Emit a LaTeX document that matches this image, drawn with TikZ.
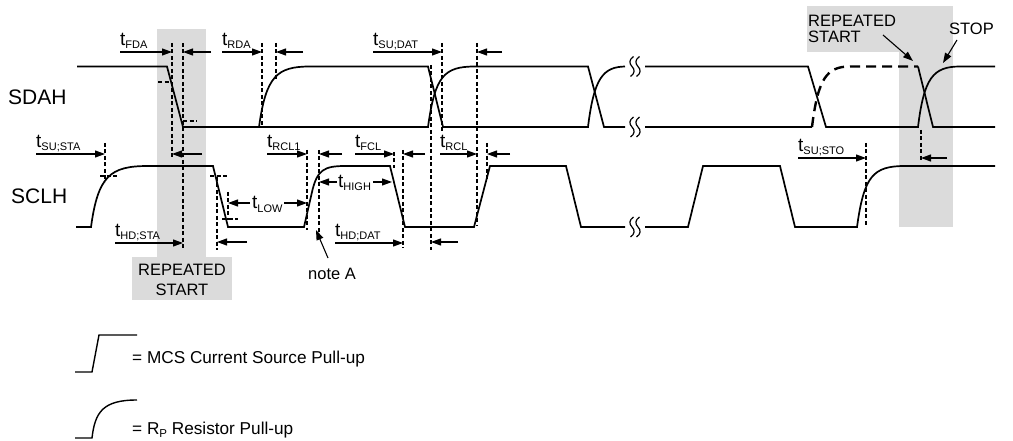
\documentclass[tikz,border=0pt]{standalone}
\usepackage{fontspec}
\setmainfont{Liberation Sans}
\usetikzlibrary{arrows.meta}
\newcommand\tsym[1]{{\fontsize{19}{20}\selectfont t}\raisebox{-3pt}{\fontsize{11}{12}\selectfont #1}}
\tikzset{
  sig/.style={line width=1.7pt, line join=miter},
  dsh/.style={line width=1.2pt, dash pattern=on 4pt off 2.5pt},
  arr/.style={line width=1.1pt, -{Triangle[length=10pt,width=7pt]}},
  lbl/.style={inner sep=0pt, font=\fontsize{16.5}{17}\selectfont},
  leglbl/.style={inner sep=0pt, font=\fontsize{17.2}{18}\selectfont, anchor=base west},
  tl/.style={inner sep=0pt, anchor=base west},
  bandfill/.style={fill=black!14, draw=none},
  brk/.pic={
    \draw[line width=1.2pt] (-1.5,-10) .. controls (-6,-7) and (-6,-3) .. (-3,0) .. controls (0,3) and (0,7) .. (-4.5,10);
    \draw[line width=1.2pt] (4.5,-10) .. controls (0,-7) and (0,-3) .. (3,0) .. controls (6,3) and (6,7) .. (1.5,10);
  }
}
\begin{document}
\begin{tikzpicture}[x=1pt,y=-1pt]
\useasboundingbox (0,0) rectangle (1013,441);
\def\SH{66.5}\def\SL{127}\def\CH{166}\def\CL{227}
% gray bands
\path[bandfill] (157,29) rectangle (206,257);
\path[bandfill] (132,257) rectangle (232,300);
\path[bandfill] (807,6) rectangle (948,52);
\path[bandfill] (899,6) rectangle (953,227);
% SDAH
\draw[sig] (77,\SH) -- (167,\SH) -- (183,\SL) -- (428,\SL) .. controls (435,76) and (444,\SH) .. (475,\SH) -- (588,\SH) -- (604,\SL) -- (625,\SL);
\draw[sig] (259,\SL) .. controls (266,76) and (277,\SH) .. (310,\SH) -- (428,\SH) -- (443,\SL) -- (588,\SL) .. controls (594,78) and (603,67) .. (625,\SH);
\draw[sig] (645,\SH) -- (808,\SH) -- (826,\SL) -- (918,\SL) .. controls (924,78) and (933,\SH) .. (960,\SH) -- (995,\SH);
\draw[sig] (645,\SL) -- (812,\SL);
\draw[line width=2.4pt, dash pattern=on 10pt off 6pt] (812,\SL) .. controls (818,78) and (827,\SH) .. (850,\SH) -- (918,\SH);
\draw[sig] (918,\SH) -- (933,\SL) -- (995,\SL);
% SCLH
\draw[sig] (76,\CL) -- (91,\CL) .. controls (98,176) and (110,\CH) .. (148,\CH) -- (213,\CH) -- (228,\CL) -- (304,\CL) -- (312,192) .. controls (317,170) and (324,\CH) .. (345,\CH) -- (390,\CH) -- (405,\CL) -- (474,\CL) -- (490,\CH) -- (566,\CH) -- (581,\CL) -- (625,\CL);
\draw[sig] (645,\CL) -- (688,\CL) -- (703,\CH) -- (780,\CH) -- (795,\CL) -- (857,\CL) .. controls (864,176) and (873,\CH) .. (905,\CH) -- (995,\CH);
% breaks
\pic at (635,\SH) {brk};
\pic at (635,\SL) {brk};
\pic at (635,\CL) {brk};
% dashed markers
\draw[dsh] (158,82) -- (172,82);
\draw[dsh] (183,121) -- (197,121);
\draw[dsh] (172,43) -- (172,157);
\draw[dsh] (183,43) -- (183,250);
\draw[dsh] (262,43) -- (262,127);
\draw[dsh] (276,43) -- (276,80);
\draw[dsh] (100,176) -- (117,176);
\draw[dsh] (105,143) -- (105,182);
\draw[dsh] (210,176) -- (227,176);
\draw[dsh] (217,177) -- (217,250);
\draw[dsh] (222,219) -- (238,219);
\draw[dsh] (228,192) -- (228,220);
\draw[dsh] (307,150) -- (307,230);
\draw[dsh] (319,150) -- (319,232);
\draw[dsh] (394,152) -- (394,168);
\draw[dsh] (403,150) -- (403,248);
\draw[dsh] (431,65) -- (431,250);
\draw[dsh] (442,43) -- (442,132);
\draw[dsh] (477,43) -- (477,226);
\draw[dsh] (487,143) -- (487,180);
\draw[dsh] (866,143) -- (866,227);
\draw[dsh] (921,130) -- (921,161);
% timing arrows
\draw[arr] (120,52) -- (172,52);
\draw[arr] (211,52) -- (183,52);
\draw[arr] (222,52) -- (262,52);
\draw[arr] (303,52) -- (276,52);
\draw[arr] (373,52) -- (442,52);
\draw[arr] (502,52) -- (477,52);
\draw[arr] (36,154) -- (105,154);
\draw[arr] (202,154) -- (172,154);
\draw[arr] (115,243) -- (183,243);
\draw[arr] (247,242) -- (217,242);
\draw[arr] (250,203) -- (228,203);
\draw[arr] (284,203) -- (307,203);
\draw[arr] (267,154) -- (307,154);
\draw[arr] (342,154) -- (319,154);
\draw[arr] (337,182) -- (319,182);
\draw[arr] (373,182) -- (392,182);
\draw[arr] (355,154) -- (394,154);
\draw[arr] (425,154) -- (403,154);
\draw[arr] (440,154) -- (477,154);
\draw[arr] (510,154) -- (487,154);
\draw[arr] (335,243) -- (403,243);
\draw[arr] (458,242) -- (431,242);
\draw[arr] (798,158) -- (866,158);
\draw[arr] (947,158) -- (921,158);
\draw[arr] (883,35) -- (913,61);
\draw[arr] (957,40) -- (943,63);
\draw[arr] (328,258) -- (316,230);
% timing labels
\node[tl] (lfda) at (120,45.5) {\tsym{FDA}};
\node[tl] (lrda) at (222,45.5) {\tsym{RDA}};
\node[tl] (lsudat) at (373,45.5) {\tsym{SU;DAT}};
\node[tl] (lsusta) at (36,147.5) {\tsym{SU;STA}};
\node[tl] (lrcl1) at (267,147.5) {\tsym{RCL1}};
\node[tl] (lfcl) at (355,147.5) {\tsym{FCL}};
\node[tl] (lrcl) at (440,147.5) {\tsym{RCL}};
\node[tl] (lhdsta) at (115,236.5) {\tsym{HD;STA}};
\node[tl] (lhddat) at (335,236.5) {\tsym{HD;DAT}};
\node[tl] (lsusto) at (798,151.5) {\tsym{SU;STO}};
\node[tl] (llow) at (252,209) {\tsym{LOW}};
\node[tl] (lhigh) at (338,187.5) {\tsym{HIGH}};
% other labels
\node[lbl, anchor=base west] (sdah) at (8,105) {\fontsize{21}{22}\selectfont SDAH};
\node[lbl, anchor=base west] (sclh) at (11,204) {\fontsize{21}{22}\selectfont SCLH};
\node[lbl, anchor=base] (rs1a) at (182,276) {REPEATED};
\node[lbl, anchor=base] (rs1b) at (182,295) {START};
\node[lbl, anchor=base west] (rs2a) at (808,27) {REPEATED};
\node[lbl, anchor=base west] (rs2b) at (808,43) {START};
\node[lbl, anchor=base west] (stop) at (949,35) {STOP};
\node[lbl, anchor=base west] (notea) at (308,279) {note A};
% legend
\draw[line width=1.4pt] (75,372) -- (92,372) -- (99,335) -- (137,335);
\draw[line width=1.4pt] (75,438) -- (92,438) .. controls (95,412) and (103,400) .. (137,400);
\node[leglbl] (leg1) at (132,363) {= MCS Current Source Pull-up};
\node[leglbl] (leg2) at (132,434) {= R\raisebox{-3pt}{\fontsize{11.5}{12}\selectfont P} Resistor Pull-up};
\end{tikzpicture}
\end{document}
